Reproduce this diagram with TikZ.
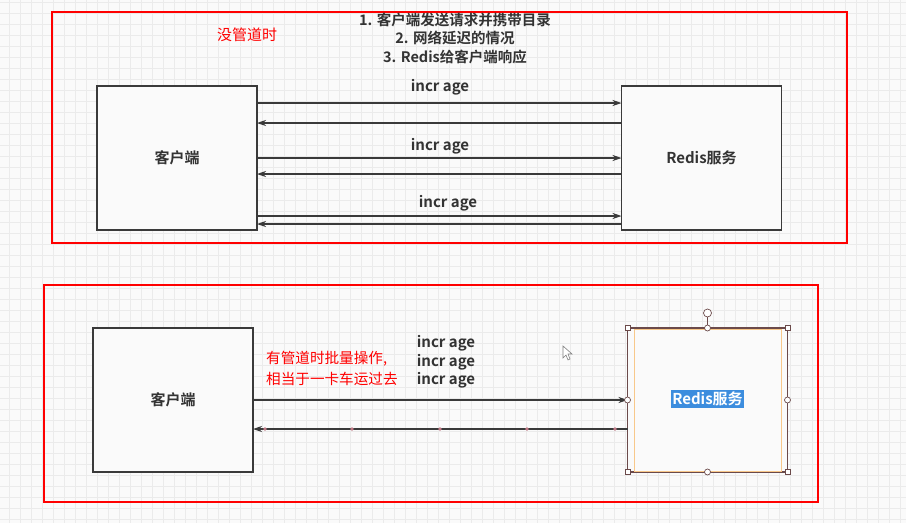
\documentclass[tikz,border=0pt]{standalone}
\usepackage{fontspec}
\setmainfont{Noto Sans CJK SC}[BoldFont={Noto Sans CJK SC Bold}]
\usetikzlibrary{arrows.meta}

\definecolor{gridgray}{HTML}{EBEBEB}
\definecolor{boxgray}{HTML}{3A3A3A}
\definecolor{textgray}{HTML}{333333}
\definecolor{selblue}{HTML}{3C8DDE}
\definecolor{selorange}{HTML}{F8C88A}
\definecolor{handlebrown}{HTML}{6B4A4A}
\definecolor{waypink}{HTML}{C07A86}

\begin{document}
\begin{tikzpicture}[x=1pt,y=-1pt,
  frame/.style={draw=red,line width=2.4pt},
  box/.style={draw=boxgray,line width=1.4pt,fill=white!98!black,inner sep=0pt,outer sep=0pt,
    minimum width=160pt,minimum height=144pt,text=textgray,font=\fontsize{15}{17}\selectfont\bfseries},
  arr/.style={draw=boxgray,line width=1.1pt,-{Stealth[length=9pt,width=6pt]}},
  lbl/.style={text=textgray,font=\fontsize{15}{17}\selectfont\bfseries,inner sep=0pt},
  note/.style={text=red,font=\fontsize{14.6}{21}\selectfont,inner sep=0pt,align=left},
  sqhandle/.style={draw=handlebrown,fill=white,line width=0.7pt,minimum size=5pt,inner sep=0pt},
  rdhandle/.style={draw=handlebrown,fill=white,line width=0.7pt,circle,minimum size=6pt,inner sep=0pt}]
\useasboundingbox (0,0) rectangle (906,523);
\fill[white!98!black] (0,0) rectangle (906,523);

% grid of the editor canvas
\foreach \i in {0,...,82}{
    \draw[gridgray,line width=0.6pt] (9.5+11*\i,0) -- (9.5+11*\i,523);
}
\foreach \j in {0,...,47}{
    \draw[gridgray,line width=0.6pt] (0,2.7+11*\j) -- (906,2.7+11*\j);
}

% without pipeline
\draw[frame] (52,12) rectangle (847,243);
\node[note,font=\fontsize{15}{17}\selectfont] (nopipe) at (247,35) {没管道时};
\node[lbl,align=center,font=\fontsize{14.5}{18.5}\selectfont\bfseries] (steps) at (455,38)
  {1. 客户端发送请求并携带目录\\2. 网络延迟的情况\\3. Redis给客户端响应};

\node[box] (client1) at (177,158) {客户端};
\node[box] (redis1) at (701.5,158) {Redis服务};

\foreach \ya/\yb in {103/123, 158/174, 216/224}{
    \draw[arr] (client1.east |- 0,\ya) -- (redis1.west |- 0,\ya);
    \draw[arr] (redis1.west |- 0,\yb) -- (client1.east |- 0,\yb);
}
\node[lbl] (cmd1) at (440,87) {incr age};
\node[lbl] (cmd2) at (440,146) {incr age};
\node[lbl] (cmd3) at (448,203) {incr age};

% with pipeline
\draw[frame] (44,285) rectangle (818,502);
\node[box] (client2) at (173,400) {客户端};
\node[box,draw=handlebrown] (redis2) at (707.5,400) {};
\draw[selorange,line width=0.8pt] (634,329) rectangle (781,471);
\node[fill=selblue,text=white,font=\fontsize{15}{17}\selectfont\bfseries,inner sep=1.5pt] (sel) at (707.5,399) {Redis服务};

\node[note,anchor=west] (batch) at (266,368.5) {有管道时批量操作,\\相当于一卡车运过去};
\node[lbl,align=center,font=\fontsize{15}{18.5}\selectfont\bfseries] (cmds) at (446,362)
  {incr age\\incr age\\incr age};

\draw[arr] (client2.east |- 0,400) -- (redis2.west |- 0,400);
\draw[arr] (redis2.west |- 0,429) -- (client2.east |- 0,429);
\foreach \x in {265,352,440,527,615}{
    \fill[waypink] (\x,429) circle (1.8pt);
}

% selection handles
\coordinate (rot) at (707.5,313);
\draw[handlebrown,line width=0.7pt] (rot) -- (redis2.north);
\node[rdhandle,minimum size=8pt] (rothandle) at (rot) {};
\foreach \c in {north west,north east,south west,south east}{
    \node[sqhandle] at (redis2.\c) {};
}
\foreach \c in {north,south,west,east}{
    \node[rdhandle] at (redis2.\c) {};
}

% mouse pointer
\draw[gray,fill=white,line width=0.6pt] (563,346) -- (563,358) -- (566,355) -- (568,360) -- (570,359) -- (568,354) -- (572,354) -- cycle;
\end{tikzpicture}
\end{document}
